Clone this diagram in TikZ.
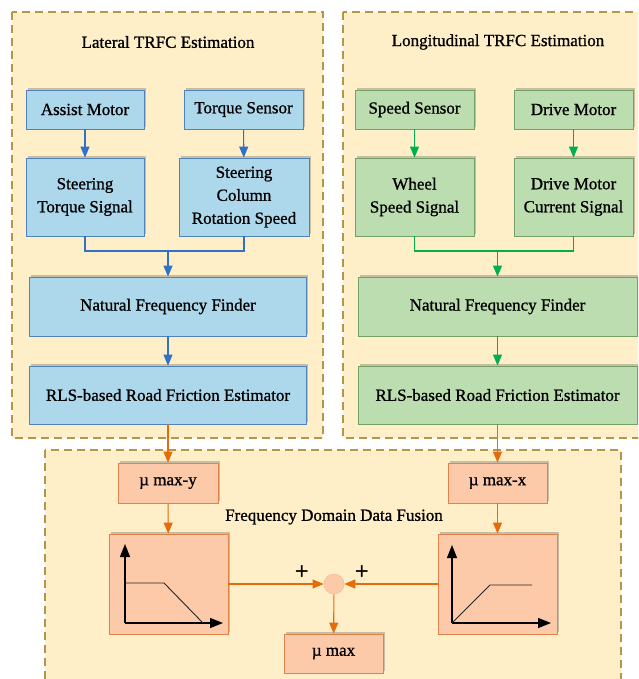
\documentclass[tikz,border=0pt]{standalone}
\usepackage{fontspec}
\setmainfont{Liberation Serif}[AutoFakeBold=0.9]
\newfontfamily\plusfont{Liberation Sans}
\usetikzlibrary{arrows.meta,shadows}
\definecolor{panelfill}{RGB}{255,239,201}
\definecolor{paneldraw}{RGB}{180,150,75}
\definecolor{bluefill}{RGB}{173,215,235}
\definecolor{bluedraw}{RGB}{80,130,190}
\definecolor{bluearrow}{RGB}{47,114,200}
\definecolor{greenfill}{RGB}{188,221,176}
\definecolor{greendraw}{RGB}{115,160,100}
\definecolor{greenarrow}{RGB}{0,176,80}
\definecolor{orangefill}{RGB}{252,201,169}
\definecolor{orangedraw}{RGB}{224,131,74}
\definecolor{orangearrow}{RGB}{228,108,10}
\begin{document}
\begin{tikzpicture}[x=1pt,y=-1pt,
  panel/.style={draw=paneldraw,fill=panelfill,line width=1.2pt,dash pattern=on 8pt off 5pt},
  boxbase/.style={rectangle,inner sep=2pt,align=center,line width=0.8pt,
     font=\fontsize{17}{23}\selectfont\bfseries,
     drop shadow={shadow xshift=1.8pt,shadow yshift=1.8pt,opacity=.3,fill=black!70}},
  bluebox/.style={boxbase,draw=bluedraw,fill=bluefill},
  greenbox/.style={boxbase,draw=greendraw,fill=greenfill},
  orangebox/.style={boxbase,draw=orangedraw,fill=orangefill},
  conn/.style={line width=1.1pt},
  arr/.style={conn,-{Triangle[length=11pt,width=9pt]}},
  axis/.style={line width=1.3pt,-{Triangle[length=13pt,width=10pt]}},
  title/.style={font=\fontsize{17}{23}\selectfont\bfseries}
]
\useasboundingbox (0,0) rectangle (638,679);
\clip (0,0) rectangle (638,679);
\fill[white] (0,0) rectangle (638,679);

% panels
\draw[panel] (12,12) rectangle (323,438);
\draw[panel] (343,12) rectangle (660,438);
\draw[panel] (45,450) rectangle (621,700);

\node[title] (tL) at (168,42) {Lateral TRFC Estimation};
\node[title] (tR) at (498,42) {Longitudinal TRFC Estimation};

% blue boxes
\node[bluebox,minimum width=118pt,minimum height=39pt] (am) at (85,109.5) {Assist Motor};
\node[bluebox,minimum width=119pt,minimum height=39pt] (ts) at (243.5,109.5) {Torque Sensor};
\node[bluebox,minimum width=118pt,minimum height=78pt] (sts) at (85,197) {Steering\\Torque Signal};
\node[bluebox,minimum width=130pt,minimum height=78pt] (scr) at (244,197) {Steering\\Column\\Rotation Speed};
\node[bluebox,minimum width=277pt,minimum height=59pt] (nffL) at (168,306.5) {Natural Frequency Finder};
\node[bluebox,minimum width=277pt,minimum height=58pt] (rlsL) at (168,395) {RLS-based Road Friction Estimator};

% green boxes
\node[greenbox,minimum width=119pt,minimum height=39pt] (ss) at (414.5,109.5) {Speed Sensor};
\node[greenbox,minimum width=119pt,minimum height=39pt] (dm) at (573.5,109.5) {Drive Motor};
\node[greenbox,minimum width=119pt,minimum height=78pt] (ws) at (414.5,197) {Wheel\\Speed Signal};
\node[greenbox,minimum width=119pt,minimum height=78pt] (dmc) at (573.5,197) {Drive Motor\\Current Signal};
\node[greenbox,minimum width=279pt,minimum height=59pt] (nffR) at (497.5,306.5) {Natural Frequency Finder};
\node[greenbox,minimum width=279pt,minimum height=58pt] (rlsR) at (497.5,395) {RLS-based Road Friction Estimator};

% orange boxes
\node[orangebox,minimum width=100pt,minimum height=40pt] (my) at (168,483) {\textmu\ max-y};
\node[orangebox,minimum width=99pt,minimum height=40pt] (mx) at (497.5,483) {\textmu\ max-x};
\node[orangebox,minimum width=119pt,minimum height=100pt] (gL) at (168.5,584) {};
\node[orangebox,minimum width=119pt,minimum height=100pt] (gR) at (497.5,584) {};
\node[orangebox,minimum width=99pt,minimum height=39pt] (mm) at (333.5,653.5) {\textmu\ max};
\node[circle,fill=orangefill,draw=orangefill!85!orangedraw,line width=0.6pt,minimum size=20pt,inner sep=0pt] (sum) at (334,584) {};
\node[title] (fus) at (334,517) {Frequency Domain Data Fusion};
\node[font=\plusfont\fontsize{24}{24}\selectfont] (p1) at (302,573) {+};
\node[font=\plusfont\fontsize{24}{24}\selectfont] (p2) at (362,573) {+};

% graphs
\draw[axis] (125,623) -- (125,544);
\draw[axis] (125,623) -- (223,623);
\draw[line width=0.9pt,black!85] (125,583) -- (164,583) -- (203,623);
\draw[axis] (452,623) -- (452,545);
\draw[axis] (452,623) -- (551,623);
\draw[line width=0.9pt,black!85] (452,623) -- (490,585) -- (532,585);

% blue connectors
\coordinate (jL) at (168,251);
\draw[arr,bluearrow] (am) -- (sts);
\draw[arr,bluearrow] (ts) -- (scr);
\draw[conn,bluearrow] (sts.south) |- (jL);
\draw[conn,bluearrow] (scr.south) |- (jL);
\draw[arr,bluearrow] (jL) -- (nffL.north);
\draw[arr,bluearrow] (nffL) -- (rlsL);

% green connectors
\coordinate (jR) at (497.5,251);
\draw[arr,greenarrow] (ss) -- (ws);
\draw[arr,greenarrow] (dm) -- (dmc);
\draw[conn,greenarrow] (ws.south) |- (jR);
\draw[conn,greenarrow] (dmc.south) |- (jR);
\draw[arr,greenarrow] (jR) -- (nffR.north);
\draw[arr,greenarrow] (nffR) -- (rlsR);

% orange connectors
\draw[arr,orangearrow] (rlsL) -- (my);
\draw[arr,orangearrow] (rlsR) -- (mx);
\draw[arr,orangearrow] (my) -- (gL);
\draw[arr,orangearrow] (mx) -- (gR);
\draw[arr,orangearrow] (gL.east) -- (sum.west);
\draw[arr,orangearrow] (gR.west) -- (sum.east);
\draw[arr,orangearrow] (sum) -- (mm);
\end{tikzpicture}
\end{document}
